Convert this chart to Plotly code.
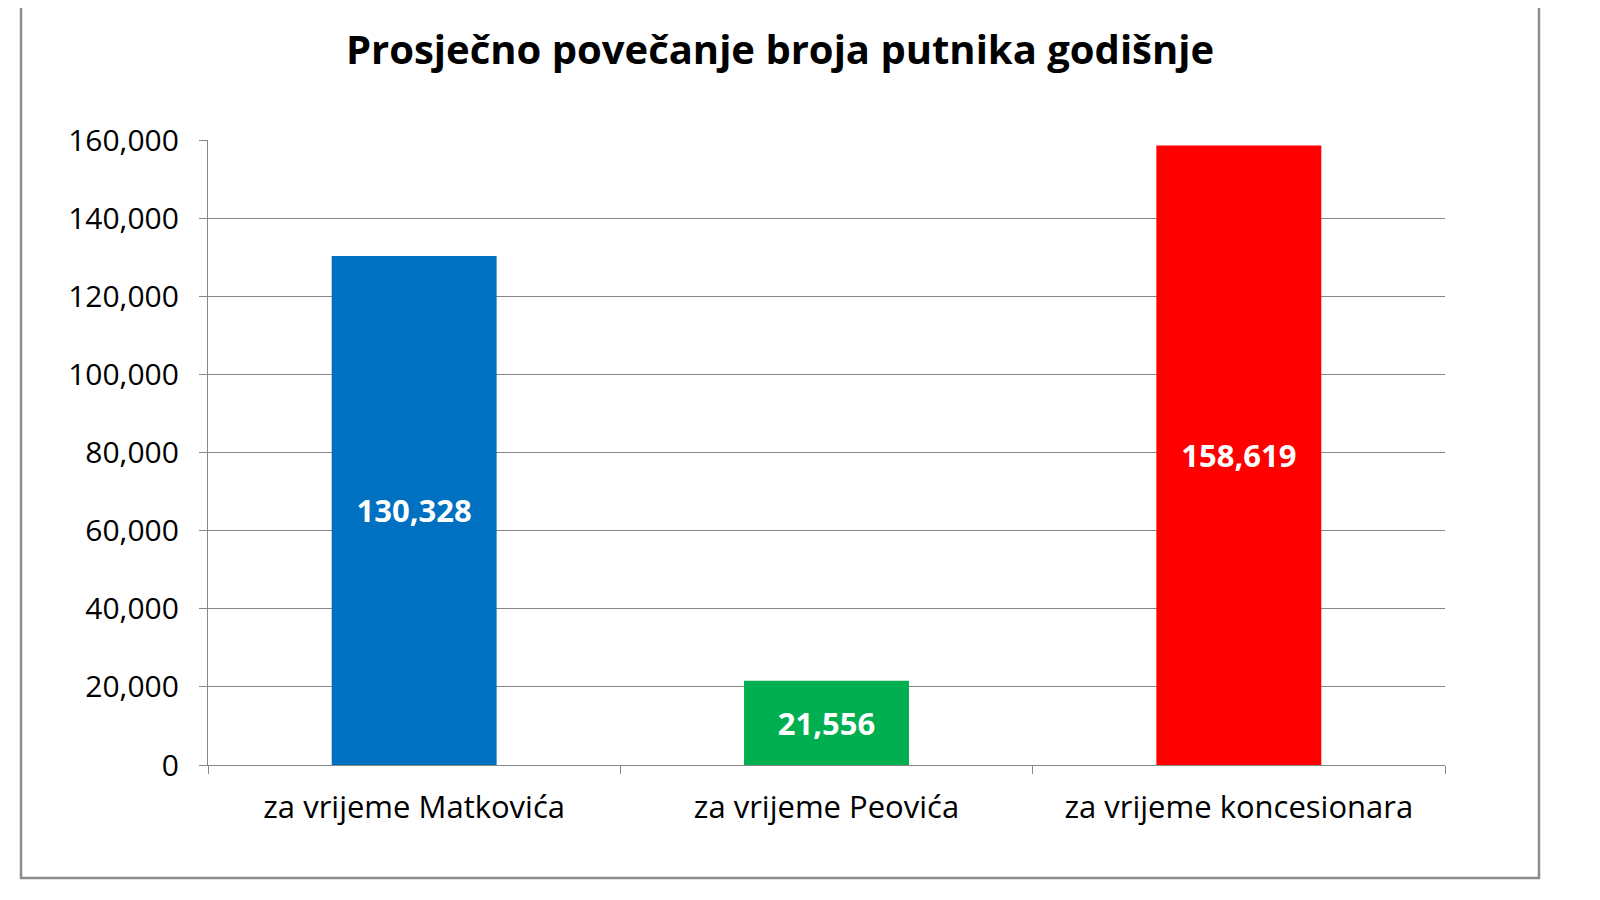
import plotly.graph_objects as go

# %%
categories = ["za vrijeme Matkovića", "za vrijeme Peovića", "za vrijeme koncesionara"]
values = [130328, 21556, 158619]
bar_colors = ["#0070C0", "#00B050", "#FF0000"]
y_ticks = [0, 20000, 40000, 60000, 80000, 100000, 120000, 140000, 160000]

FONT = "Open Sans"
W, H = 1584, 884  # page body keeps an 8px margin, so the figure fills the 1600x900 window

# %%
fig = go.Figure(
    go.Bar(
        x=categories,
        y=values,
        marker=dict(color=bar_colors, line_width=0),
        texttemplate="%{y:,}",
        textposition="inside",
        insidetextanchor="middle",
        textfont=dict(family=FONT, size=31, color="white", weight="bold"),
        showlegend=False,
        hoverinfo="skip",
    )
)

fig.update_layout(
    width=W,
    height=H,
    margin=dict(l=200, r=147, t=132, b=127),
    paper_bgcolor="white",
    plot_bgcolor="white",
    bargap=0.6,
    font=dict(family=FONT, size=30, color="black"),
    title=dict(
        text="Prosječno povečanje broja putnika godišnje",
        font=dict(family=FONT, size=40, color="black", weight="bold"),
        x=772 / W,
        xanchor="center",
        y=1 - 42 / H,
        yanchor="middle",
    ),
)

fig.update_yaxes(
    range=[0, 160000],
    tickvals=y_ticks,
    tickformat=",d",
    showgrid=True,
    gridcolor="#868686",
    gridwidth=1.3,
    zeroline=False,
    showline=True,
    linecolor="#868686",
    linewidth=1.3,
    ticks="outside",
    ticklen=8,
    tickcolor="#868686",
    ticklabelstandoff=14,
    tickfont=dict(family=FONT, size=30),
)
fig.update_xaxes(
    showline=True,
    linecolor="#868686",
    linewidth=1.3,
    ticks="outside",
    tickson="boundaries",
    ticklen=8,
    tickcolor="#868686",
    ticklabelstandoff=15,
    tickfont=dict(family=FONT, size=31),
)

# outer chart border
fig.add_shape(
    type="rect",
    xref="paper",
    yref="paper",
    x0=(13 - 200) / 1237,
    x1=(1531 - 200) / 1237,
    y0=(757 - 870) / 625,
    y1=(757 + 20) / 625,
    line=dict(color="#8C8C8C", width=2.5),
    fillcolor="rgba(0,0,0,0)",
    layer="below",
)

fig.write_html("out.html")
